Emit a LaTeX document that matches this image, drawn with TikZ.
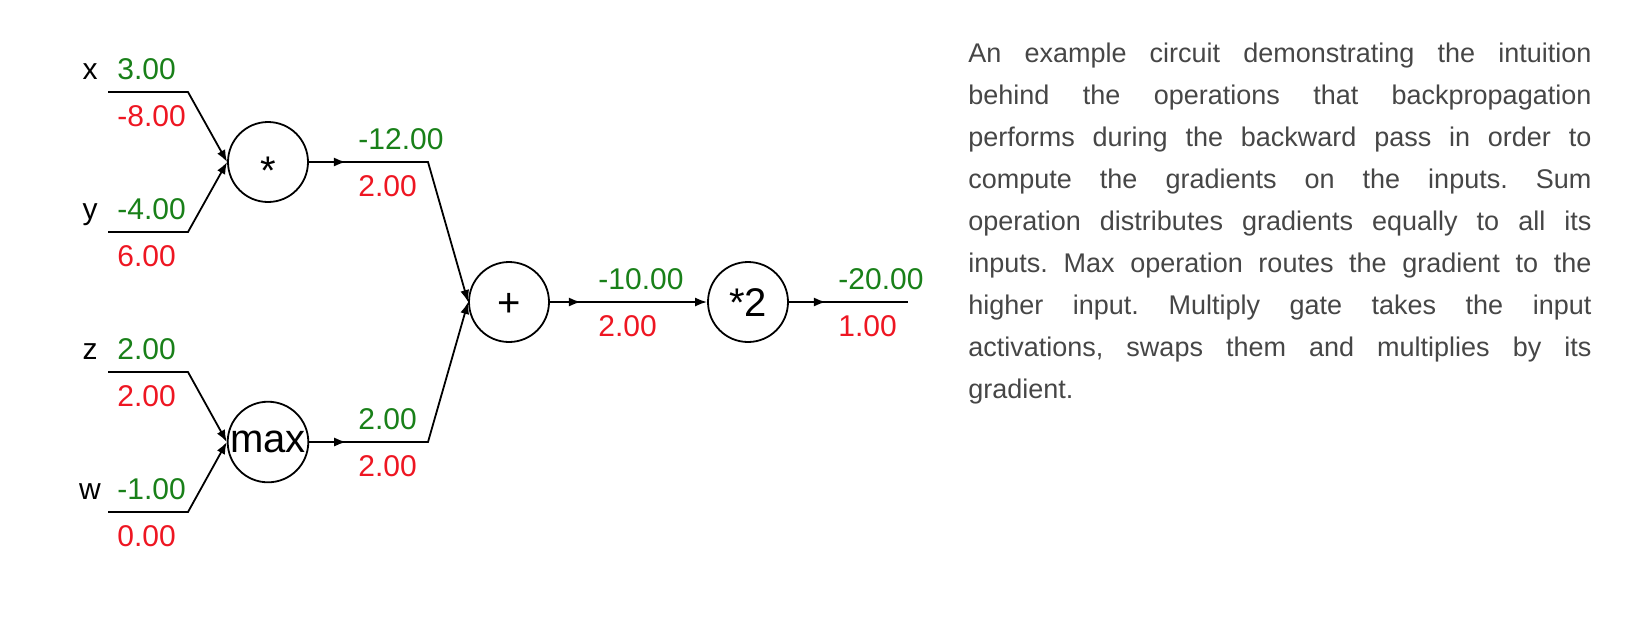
\documentclass[tikz,border=0pt]{standalone}
\usepackage{fontspec}
\setmainfont{Liberation Sans}
\usetikzlibrary{arrows.meta,decorations.markings}
\hyphenpenalty=10000
\exhyphenpenalty=10000
\frenchspacing

\definecolor{valgreen}{RGB}{25,128,25}
\definecolor{gradred}{RGB}{238,22,34}
\definecolor{desctext}{RGB}{70,70,70}

\tikzset{
  gate/.style={circle,draw,line width=0.9pt,minimum size=40pt,inner sep=0pt,
    font=\fontsize{20}{24}\selectfont,text height=14.4pt,text depth=0pt},
  wire/.style={line width=0.9pt},
  tip/.style={-{Latex[length=6pt,width=4.5pt]}},
  midtip/.style={postaction={decorate},decoration={markings,
    mark=at position #1 with {\arrow{Latex[length=6pt,width=4.5pt]}}}},
  midtip/.default=18.5pt,
  val/.style={anchor=base west,inner sep=0pt,text=valgreen,font=\fontsize{15}{18}\selectfont},
  grad/.style={val,text=gradred},
  inname/.style={anchor=base,inner sep=0pt,font=\fontsize{15}{18}\selectfont},
  desc/.style={anchor=base west,inner sep=0pt,text width=311.5pt,align=justify,
    text=desctext,font=\fontsize{13.5}{21}\selectfont}
}

\begin{document}
\begin{tikzpicture}[x=0.5pt,y=-0.5pt]
  \useasboundingbox (0,0) rectangle (1628,618);

  % gates
  \node[gate] (mul) at (268,162) {\raisebox{-0.21em}{*}};
  \node[gate] (mx)  at (268,442) {\raisebox{0.1em}{max}};
  \node[gate] (add) at (509,302) {+};
  \node[gate] (dbl) at (748,302) {*2};

  % inputs
  \foreach \nm/\wy/\val/\grd/\gt in
  {x/92/3.00/-8.00/mul, y/232/-4.00/6.00/mul, z/372/2.00/2.00/mx, w/512/-1.00/0.00/mx}
  {
    \coordinate (\nm a) at (108,\wy);
    \coordinate (\nm b) at (188,\wy);
    \node[inname] (\nm name) at (90,\wy-13) {\nm};
    \node[val] (\nm val) at (117,\wy-13) {\val};
    \node[grad] (\nm grad) at (117,\wy+34) {\grd};
    \draw[wire,tip] (\nm a) -- (\nm b) -- (\gt.west);
  }

  % inner wires
  \coordinate (mulb) at (428,162);
  \coordinate (mxb) at (428,442);
  \coordinate (outb) at (908,302);
  \draw[wire,midtip,tip] (mul.east) -- (mulb) -- (add.west);
  \draw[wire,midtip,tip] (mx.east) -- (mxb) -- (add.west);
  \draw[wire,midtip=15.5pt,tip] (add.east) -- (dbl.west);
  \draw[wire,midtip] (dbl.east) -- (outb);

  \node[val] (mulval) at (358,149) {-12.00};
  \node[grad] (mulgrad) at (358,196) {2.00};
  \node[val] (mxval) at (358,429) {2.00};
  \node[grad] (mxgrad) at (358,476) {2.00};
  \node[val] (addval) at (598,289) {-10.00};
  \node[grad] (addgrad) at (598,336) {2.00};
  \node[val] (dblval) at (838,289) {-20.00};
  \node[grad] (dblgrad) at (838,336) {1.00};

  % caption
  \node[desc] (note) at (968,62) {An example circuit demonstrating the intuition \linebreak
    behind the operations that backpropagation \linebreak
    performs during the backward pass in order to \linebreak
    compute the gradients on the inputs. Sum \linebreak
    operation distributes gradients equally to all its \linebreak
    inputs. Max operation routes the gradient to the \linebreak
    higher input. Multiply gate takes the input \linebreak
    activations, swaps them and multiplies by its \linebreak
    gradient.};
\end{tikzpicture}
\end{document}
